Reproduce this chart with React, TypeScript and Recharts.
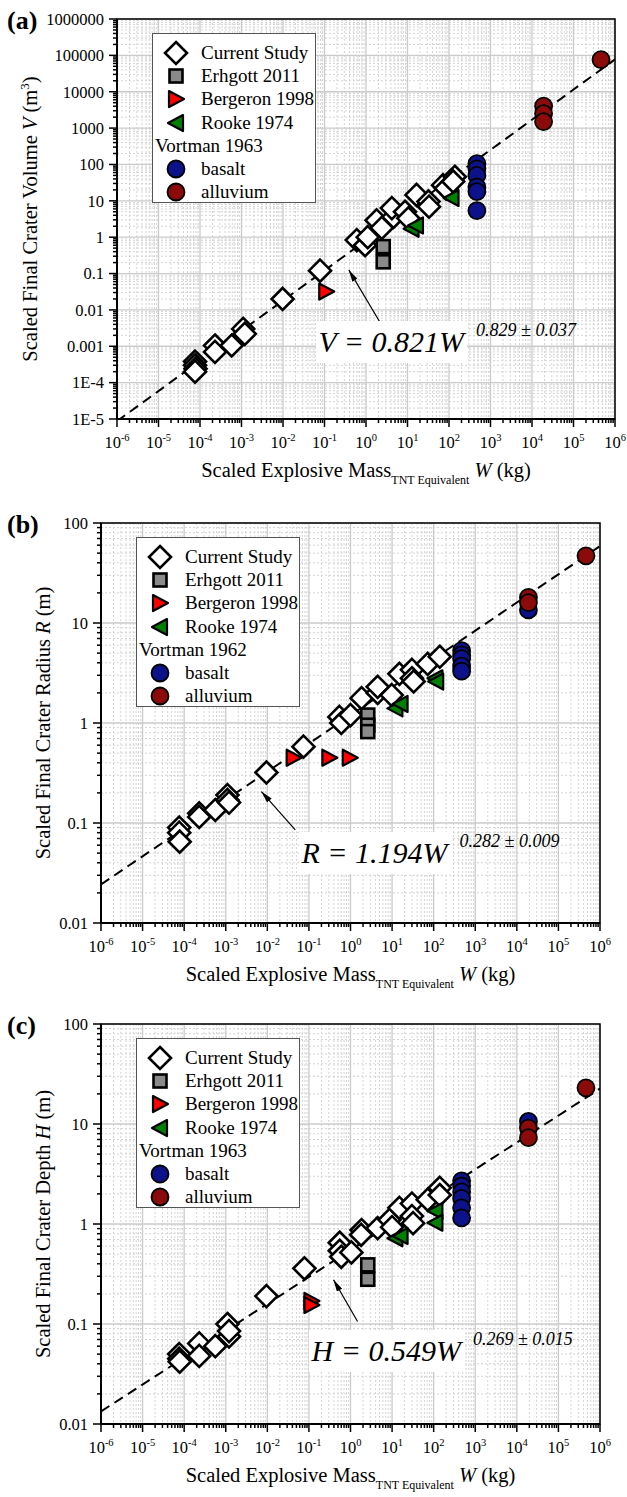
import React from 'react';
import { ScatterChart, Scatter, XAxis, YAxis, ReferenceArea, CartesianGrid } from 'recharts';

const SERIF = '"Liberation Serif", "Times New Roman", Times, serif';

// axis decades and their labels
const massDecades = [-6, -5, -4, -3, -2, -1, 0, 1, 2, 3, 4, 5, 6];
const volumeDecades = [-5, -4, -3, -2, -1, 0, 1, 2, 3, 4, 5, 6];
const volumeTickLabels = ['1E-5', '1E-4', '0.001', '0.01', '0.1', '1', '10', '100', '1000', '10000', '100000', '1000000'];
const lengthDecades = [-2, -1, 0, 1, 2];
const lengthTickLabels = ['0.01', '0.1', '1', '10', '100'];

// (a) crater volume V (m^3) vs scaled mass W (kg)
const volCurrentW = [7.6e-5, 7.6e-5, 7.8e-5, 7.6e-5, 2.3e-4, 2.3e-4, 5.8e-4, 1.1e-3, 1.2e-3, 0.0098, 0.078, 0.6, 0.95, 1.1, 1.8, 2.4, 4.6, 4.2, 8.7, 10.5, 16.5, 32, 33, 72, 85, 138, 126];
const volCurrentV = [3.8e-4, 3.0e-4, 2.4e-4, 2.0e-4, 1.05e-3, 7.0e-4, 1.05e-3, 3.0e-3, 2.2e-3, 0.02, 0.12, 0.83, 0.6, 1.0, 2.9, 1.8, 3.6, 6.3, 5.0, 3.3, 14.5, 9.6, 6.9, 27, 22, 46, 34];
const volErhgottW = [2.6, 2.6];
const volErhgottV = [0.55, 0.21];
const volBergeronW = [0.11];
const volBergeronV = [0.032];
const volRookeW = [12.5, 16, 115];
const volRookeV = [1.7, 2.1, 12];
const volBasaltW = [470, 470, 470, 470, 470, 470];
const volBasaltV = [105, 76, 50, 24, 18, 5.4];
const volAlluviumW = [1.9e4, 1.9e4, 1.9e4, 4.6e5];
const volAlluviumV = [4000, 2500, 1500, 7.6e4];

// (b) crater radius R (m)
const radCurrentW = [7.6e-5, 7.6e-5, 7.8e-5, 2.3e-4, 2.3e-4, 5.6e-4, 1.1e-3, 1.1e-3, 1.2e-3, 0.0095, 0.074, 0.54, 0.6, 1.0, 1.85, 4.5, 4.5, 9.8, 15, 30, 30, 33, 72, 140];
const radCurrentR = [0.09, 0.08, 0.065, 0.125, 0.115, 0.135, 0.19, 0.17, 0.16, 0.32, 0.58, 1.15, 1.0, 1.2, 1.77, 2.0, 2.3, 1.9, 3.1, 3.4, 2.8, 2.6, 3.9, 4.6];
const radErhgottW = [2.6, 2.6, 2.6];
const radErhgottR = [1.2, 0.95, 0.82];
const radBergeronW = [0.043, 0.31, 0.96];
const radBergeronR = [0.45, 0.45, 0.45];
const radRookeW = [12, 16, 110, 115];
const radRookeR = [1.4, 1.55, 2.8, 2.6];
const radBasaltW = [470, 470, 470, 470, 470, 1.9e4];
const radBasaltR = [5.3, 4.8, 4.4, 3.7, 3.3, 13.5];
const radAlluviumW = [1.9e4, 1.9e4, 4.6e5];
const radAlluviumR = [18, 16, 47];

// (c) crater depth H (m)
const depCurrentW = [7.6e-5, 7.6e-5, 7.8e-5, 2.3e-4, 2.3e-4, 5.6e-4, 1.1e-3, 1.2e-3, 1.2e-3, 0.0095, 0.078, 0.55, 0.55, 0.6, 1.05, 1.85, 1.8, 4.5, 8.7, 10, 15, 30, 30, 32, 72, 140, 140];
const depCurrentH = [0.05, 0.045, 0.042, 0.064, 0.048, 0.06, 0.1, 0.075, 0.085, 0.19, 0.36, 0.65, 0.54, 0.47, 0.52, 0.87, 0.78, 0.91, 1.1, 0.93, 1.45, 1.6, 1.2, 1.02, 1.75, 2.3, 1.95];
const depErhgottW = [2.6, 2.6];
const depErhgottH = [0.39, 0.28];
const depBergeronW = [0.115, 0.115];
const depBergeronH = [0.17, 0.155];
const depRookeW = [12, 16, 110, 110];
const depRookeH = [0.72, 0.76, 1.35, 1.03];
const depBasaltW = [470, 470, 470, 470, 470, 470, 1.9e4];
const depBasaltH = [2.7, 2.4, 2.1, 1.8, 1.45, 1.15, 10.6];
const depAlluviumW = [1.9e4, 1.9e4, 4.6e5];
const depAlluviumH = [9.1, 7.3, 23];

// power-law fits
const volumeFit = { sym: 'V', coef: 0.821, exp: 0.829, err: 0.037 };
const radiusFit = { sym: 'R', coef: 1.194, exp: 0.282, err: 0.009 };
const depthFit = { sym: 'H', coef: 0.549, exp: 0.269, err: 0.015 };

// annotation arrows: [tail, tip] in data units
const volArrow = [{ x: 2.54, y: 0.0034 }, { x: 0.385, y: 0.126 }];
const radArrow = [{ x: 0.047, y: 0.0855 }, { x: 0.0072, y: 0.206 }];
const depArrow = [{ x: 1.48, y: 0.106 }, { x: 0.39, y: 0.277 }];

const toPoints = (w: number[], v: number[]) => w.map((x, i) => ({ x, y: v[i] }));
const fitPoints = (f: { coef: number; exp: number }) =>
  [1e-6, 1e6].map((x) => ({ x, y: f.coef * Math.pow(x, f.exp) }));

const logTicks = (decades: number[]) => {
  const out: number[] = [];
  decades.forEach((d, i) => {
    const last = i === decades.length - 1;
    for (let m = 1; m <= (last ? 1 : 9); m++) out.push(m * Math.pow(10, d));
  });
  return out;
};
const isDecade = (v: number) => Math.abs(Math.log10(v) - Math.round(Math.log10(v))) < 1e-6;
const majorOf = (decades: number[]) => decades.map((d) => Math.pow(10, d));
const minorOf = (decades: number[]) => logTicks(decades).filter((v) => !isDecade(v));

// marker shapes
const Diamond = ({ cx, cy }: any) => (
  <path d={`M${cx},${cy - 11}L${cx + 11},${cy}L${cx},${cy + 11}L${cx - 11},${cy}Z`} fill="#fff" stroke="#000" strokeWidth={2.6} />
);
const Square = ({ cx, cy }: any) => (
  <rect x={cx - 6.5} y={cy - 6.5} width={13} height={13} fill="#8a8a8a" stroke="#000" strokeWidth={2.6} />
);
const TriRight = ({ cx, cy }: any) => (
  <path d={`M${cx - 7},${cy - 8}L${cx + 8},${cy}L${cx - 7},${cy + 8}Z`} fill="#ff0000" stroke="#000" strokeWidth={2.2} strokeLinejoin="round" />
);
const TriLeft = ({ cx, cy }: any) => (
  <path d={`M${cx + 7},${cy - 8}L${cx - 8},${cy}L${cx + 7},${cy + 8}Z`} fill="#008000" stroke="#000" strokeWidth={2.2} strokeLinejoin="round" />
);
const BlueDot = ({ cx, cy }: any) => <circle cx={cx} cy={cy} r={8.5} fill="#0b128a" stroke="#000" strokeWidth={1.8} />;
const RedDot = ({ cx, cy }: any) => <circle cx={cx} cy={cy} r={8.5} fill="#8b0a0a" stroke="#000" strokeWidth={1.8} />;
const NoMark = () => <g />;

const PLOT_H = 400;
const PLOT_TOP = 19;

const MassTick = (props: any) => {
  const { x, y, payload } = props;
  const v = payload.value;
  const major = isDecade(v);
  const e = Math.round(Math.log10(v));
  return (
    <g>
      <line x1={x} x2={x} y1={y} y2={y + (major ? 8 : 4)} stroke="#000" strokeWidth={1.5} />
      {major && (
        <text x={x} y={y + 29} textAnchor="middle" fontFamily={SERIF} fontSize={16.5} fill="#000">
          10<tspan dy={-7} fontSize={10.5}>{e}</tspan>
        </text>
      )}
    </g>
  );
};

const makeValueTick = (decades: number[], labels: string[]) => (props: any) => {
  const { x, y, payload } = props;
  const v = payload.value;
  const major = isDecade(v);
  const e = Math.round(Math.log10(v));
  return (
    <g>
      <line x1={x - (major ? 8 : 4)} x2={x} y1={y} y2={y} stroke="#000" strokeWidth={1.5} />
      {major && (
        <text x={x - 13} y={y} dy="0.35em" textAnchor="end" fontFamily={SERIF} fontSize={16.5} fill="#000">
          {labels[e - decades[0]]}
        </text>
      )}
    </g>
  );
};

const legendRows = [
  { label: 'Current Study', Icon: Diamond },
  { label: 'Erhgott 2011', Icon: Square },
  { label: 'Bergeron 1998', Icon: TriRight },
  { label: 'Rooke 1974', Icon: TriLeft },
  { label: null, Icon: null },
  { label: 'basalt', Icon: BlueDot },
  { label: 'alluvium', Icon: RedDot },
];

function LegendBox({ left, top, vortman }: { left: number; top: number; vortman: string }) {
  return (
    <div style={{ position: 'absolute', left, top, width: 164, height: 170, boxSizing: 'border-box',
      border: '1.2px solid #555', background: '#fff', fontFamily: SERIF, fontSize: 19 }}>
      {legendRows.map((r, i) => {
        const cy = 19 + 23.2 * i;
        if (!r.Icon) {
          return (
            <div key={i} style={{ position: 'absolute', left: 2, top: cy - 12, lineHeight: '24px', whiteSpace: 'nowrap' }}>
              {vortman}
            </div>
          );
        }
        const Icon = r.Icon;
        return (
          <React.Fragment key={i}>
            <svg style={{ position: 'absolute', left: 23 - 13, top: cy - 13 }} width={26} height={26}>
              <Icon cx={13} cy={13} />
            </svg>
            <div style={{ position: 'absolute', left: 48, top: cy - 12, lineHeight: '24px', whiteSpace: 'nowrap' }}>
              {r.label}
            </div>
          </React.Fragment>
        );
      })}
    </div>
  );
}

type PanelCfg = {
  top: number;
  axisW: number;
  rightM: number;
  decades: number[];
  labels: string[];
  letter: string;
  title: React.ReactNode;
  titleX: number;
  vortman: string;
  fit: { sym: string; coef: number; exp: number; err: number };
  eqLeft: number;
  eqY: number;
  arrow: { x: number; y: number }[];
  series: { data: { x: number; y: number }[]; shape: any }[];
};

function Panel({ cfg }: { cfg: PanelCfg }) {
  const plotW = 627 - cfg.axisW - cfg.rightM;
  const yMin = Math.pow(10, cfg.decades[0]);
  const yMax = Math.pow(10, cfg.decades[cfg.decades.length - 1]);
  const ValueTick = makeValueTick(cfg.decades, cfg.labels);

  // grid positions through the axis scales, with a log fallback on the plot box
  const xPos = (vals: number[]) => (p: any) => {
    const s = p?.xAxis?.scale;
    if (typeof s === 'function') return vals.map((v) => s(v));
    return vals.map((v) => cfg.axisW + ((Math.log10(v) + 6) / 12) * plotW);
  };
  const yPos = (vals: number[]) => (p: any) => {
    const s = p?.yAxis?.scale;
    if (typeof s === 'function') return vals.map((v) => s(v));
    const d0 = cfg.decades[0];
    const span = cfg.decades[cfg.decades.length - 1] - d0;
    return vals.map((v) => PLOT_TOP + PLOT_H - ((Math.log10(v) - d0) / span) * PLOT_H);
  };

  return (
    <div style={{ position: 'absolute', left: 0, top: cfg.top, width: 627, height: 480 }}>
      <ScatterChart width={627} height={480} margin={{ top: PLOT_TOP, right: cfg.rightM, bottom: 21, left: 0 }}>
        <CartesianGrid stroke="#d4d4d4" strokeWidth={1} strokeDasharray="2 2"
          verticalCoordinatesGenerator={xPos(minorOf(massDecades))}
          horizontalCoordinatesGenerator={yPos(minorOf(cfg.decades))} />
        <CartesianGrid stroke="#cbcbcb" strokeWidth={1.3}
          verticalCoordinatesGenerator={xPos(majorOf(massDecades))}
          horizontalCoordinatesGenerator={yPos(majorOf(cfg.decades))} />
        <XAxis dataKey="x" type="number" scale="log" domain={[1e-6, 1e6]} allowDataOverflow
          ticks={logTicks(massDecades)} interval={0} tickSize={0} tickMargin={0} tickLine={false}
          axisLine={{ stroke: '#000', strokeWidth: 2 }} height={40} tick={MassTick} />
        <YAxis dataKey="y" type="number" scale="log" domain={[yMin, yMax]} allowDataOverflow
          ticks={logTicks(cfg.decades)} interval={0} tickSize={0} tickMargin={0} tickLine={false}
          axisLine={{ stroke: '#000', strokeWidth: 2 }} width={cfg.axisW} tick={ValueTick} />
        <ReferenceArea x1={1e-6} x2={1e6} y1={yMin} y2={yMax} fill="none" fillOpacity={0}
          stroke="#000" strokeWidth={1.5} />
        <Scatter data={fitPoints(cfg.fit)} shape={NoMark} isAnimationActive={false}
          line={{ stroke: '#000', strokeWidth: 2, strokeDasharray: '10 6' }} />
        {cfg.series.map((s, i) => (
          <Scatter key={i} data={s.data} shape={s.shape} isAnimationActive={false} />
        ))}
        <Scatter data={cfg.arrow} shape={NoMark} isAnimationActive={false}
          line={{ stroke: '#000', strokeWidth: 1.2, markerEnd: 'url(#arrowHead)' }} />
      </ScatterChart>

      <div style={{ position: 'absolute', left: 7, top: PLOT_TOP + 2, transform: 'translateY(-50%)',
        fontFamily: SERIF, fontWeight: 'bold', fontSize: 26, lineHeight: 1 }}>{cfg.letter}</div>

      <div style={{ position: 'absolute', left: cfg.titleX, top: PLOT_TOP + PLOT_H / 2,
        transform: 'translate(-50%, -50%) rotate(-90deg)', whiteSpace: 'nowrap',
        fontFamily: SERIF, fontSize: 20.5, lineHeight: 1 }}>{cfg.title}</div>

      <div style={{ position: 'absolute', left: cfg.axisW + plotW / 2, top: PLOT_TOP + PLOT_H + 54,
        transform: 'translate(-50%, -50%)', whiteSpace: 'nowrap', fontFamily: SERIF, fontSize: 20.5, lineHeight: 1 }}>
        Scaled Explosive Mass<sub style={{ fontSize: 12, verticalAlign: -7 }}>TNT Equivalent</sub> <i>W</i> (kg)
      </div>

      <LegendBox left={cfg.axisW + 35} top={PLOT_TOP + 14} vortman={cfg.vortman} />

      <div style={{ position: 'absolute', left: cfg.eqLeft, top: cfg.eqY, transform: 'translateY(-50%)',
        display: 'flex', alignItems: 'center', fontFamily: SERIF, fontStyle: 'italic', whiteSpace: 'nowrap' }}>
        <span style={{ background: '#fff', fontSize: 30, lineHeight: '36px', padding: '3px 3px' }}>
          {cfg.fit.sym} = {cfg.fit.coef.toFixed(3)}W
        </span>
        <span style={{ fontSize: 18, marginLeft: 9, position: 'relative', top: -12 }}>
          {cfg.fit.exp.toFixed(3)} ± {cfg.fit.err.toFixed(3)}
        </span>
      </div>
    </div>
  );
}

const panels: PanelCfg[] = [
  {
    top: 0, axisW: 117, rightM: 12, decades: volumeDecades, labels: volumeTickLabels, letter: '(a)',
    title: <>Scaled Final Crater Volume <i>V</i> (m<sup style={{ fontSize: 13 }}>3</sup>)</>,
    titleX: 29, vortman: 'Vortman 1963', fit: volumeFit, eqLeft: 315.5, eqY: 342, arrow: volArrow,
    series: [
      { data: toPoints(volCurrentW, volCurrentV), shape: Diamond },
      { data: toPoints(volErhgottW, volErhgottV), shape: Square },
      { data: toPoints(volBergeronW, volBergeronV), shape: TriRight },
      { data: toPoints(volRookeW, volRookeV), shape: TriLeft },
      { data: toPoints(volBasaltW, volBasaltV), shape: BlueDot },
      { data: toPoints(volAlluviumW, volAlluviumV), shape: RedDot },
    ],
  },
  {
    top: 504, axisW: 101, rightM: 27, decades: lengthDecades, labels: lengthTickLabels, letter: '(b)',
    title: <>Scaled Final Crater Radius <i>R</i> (m)</>,
    titleX: 43, vortman: 'Vortman 1962', fit: radiusFit, eqLeft: 298.5, eqY: 349, arrow: radArrow,
    series: [
      { data: toPoints(radCurrentW, radCurrentR), shape: Diamond },
      { data: toPoints(radErhgottW, radErhgottR), shape: Square },
      { data: toPoints(radBergeronW, radBergeronR), shape: TriRight },
      { data: toPoints(radRookeW, radRookeR), shape: TriLeft },
      { data: toPoints(radBasaltW, radBasaltR), shape: BlueDot },
      { data: toPoints(radAlluviumW, radAlluviumR), shape: RedDot },
    ],
  },
  {
    top: 1005, axisW: 101, rightM: 27, decades: lengthDecades, labels: lengthTickLabels, letter: '(c)',
    title: <>Scaled Final Crater Depth <i>H</i> (m)</>,
    titleX: 43, vortman: 'Vortman 1963', fit: depthFit, eqLeft: 308.5, eqY: 346, arrow: depArrow,
    series: [
      { data: toPoints(depCurrentW, depCurrentH), shape: Diamond },
      { data: toPoints(depErhgottW, depErhgottH), shape: Square },
      { data: toPoints(depBergeronW, depBergeronH), shape: TriRight },
      { data: toPoints(depRookeW, depRookeH), shape: TriLeft },
      { data: toPoints(depBasaltW, depBasaltH), shape: BlueDot },
      { data: toPoints(depAlluviumW, depAlluviumH), shape: RedDot },
    ],
  },
];

export default function App() {
  return (
    <div style={{ position: 'absolute', left: 0, top: 0, width: 627, height: 1497, overflow: 'hidden', background: '#fff' }}>
      <svg width={0} height={0} style={{ position: 'absolute' }}>
        <defs>
          <marker id="arrowHead" markerUnits="userSpaceOnUse" markerWidth={12} markerHeight={6}
            refX={12} refY={3} orient="auto">
            <path d="M0,0L12,3L0,6Z" fill="#000" />
          </marker>
        </defs>
      </svg>
      {panels.map((p, i) => (
        <Panel key={i} cfg={p} />
      ))}
    </div>
  );
}
